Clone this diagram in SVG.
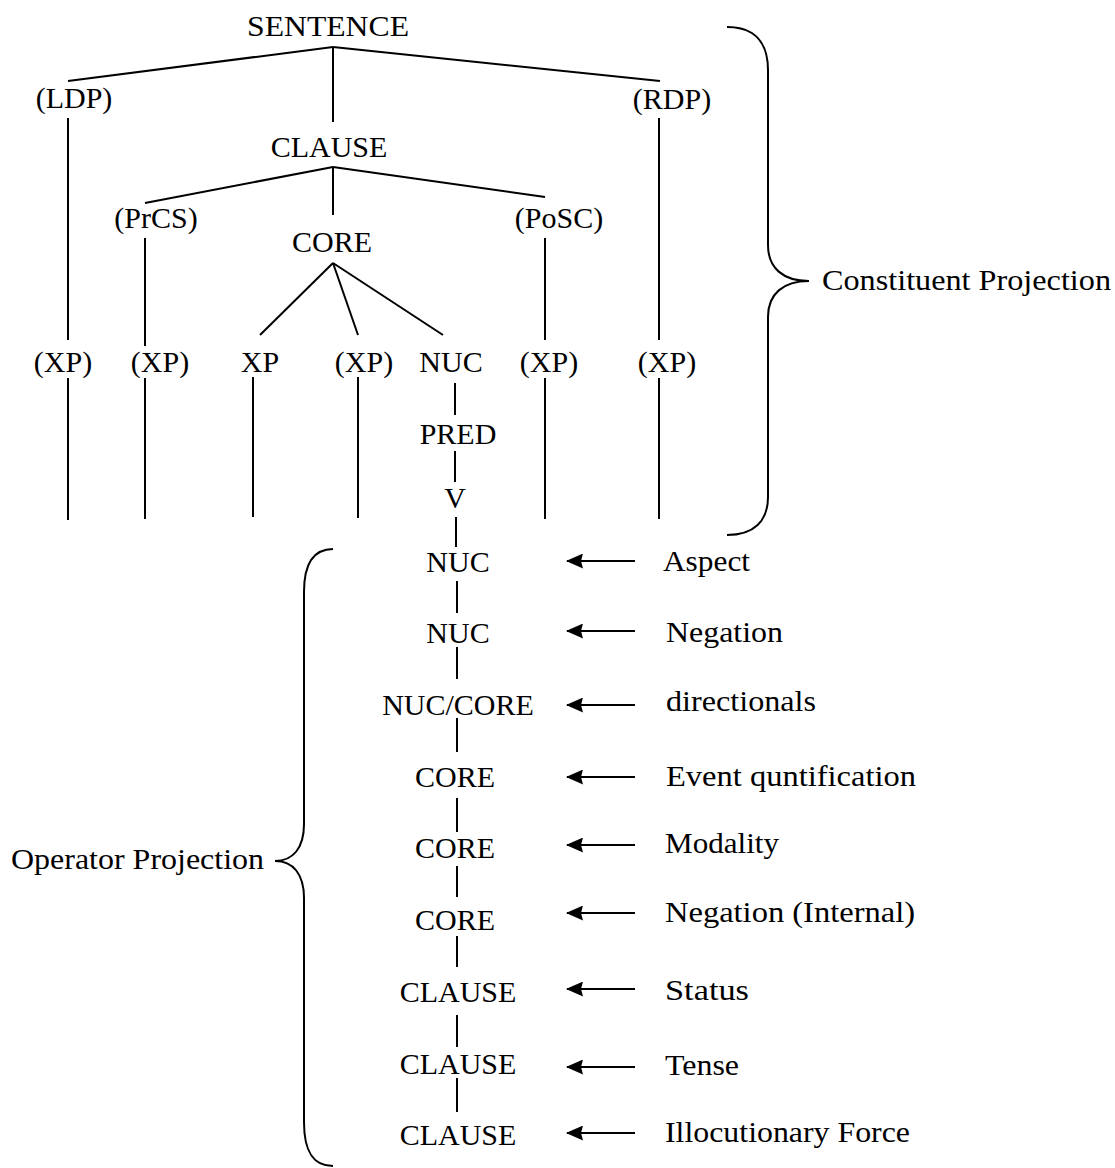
<svg xmlns="http://www.w3.org/2000/svg" width="1115" height="1168" viewBox="0 0 1115 1168">
<style>
text{font-family:"Liberation Serif","Times New Roman",serif;font-size:30px;fill:#000}
.n{text-anchor:middle}
.lbl{text-anchor:start}
line,path{stroke:#000;stroke-width:2;fill:none}
</style>
<defs>
<marker id="ah" viewBox="0 0 17 15" refX="16" refY="7.5" markerWidth="17" markerHeight="15" markerUnits="userSpaceOnUse" orient="auto">
<path d="M0,0 L17,7.5 L0,15 L2,7.5 Z" style="fill:#000;stroke:none"/>
</marker>
</defs>
<rect width="1115" height="1168" fill="#fff"/>

<g id="connectors">
<line x1="333" y1="47" x2="68" y2="81"/>
<line x1="333" y1="47" x2="333" y2="122"/>
<line x1="333" y1="47" x2="660" y2="81"/>
<line x1="68" y1="118" x2="68" y2="340"/>
<line x1="659" y1="118" x2="659" y2="340"/>
<line x1="333" y1="167" x2="145" y2="203"/>
<line x1="333" y1="167" x2="333" y2="215"/>
<line x1="333" y1="167" x2="545" y2="197"/>
<line x1="145" y1="238" x2="145" y2="346"/>
<line x1="545" y1="238" x2="545" y2="340"/>
<line x1="333" y1="263" x2="260" y2="335"/>
<line x1="333" y1="263" x2="358" y2="335"/>
<line x1="333" y1="263" x2="443" y2="335"/>
<line x1="68" y1="378" x2="68" y2="520"/>
<line x1="145" y1="378" x2="145" y2="519"/>
<line x1="253" y1="377" x2="253" y2="517"/>
<line x1="358" y1="377" x2="358" y2="518"/>
<line x1="545" y1="378" x2="545" y2="519"/>
<line x1="659" y1="378" x2="659" y2="519"/>
<line x1="455" y1="383" x2="455" y2="415"/>
<line x1="455" y1="451" x2="455" y2="482"/>
<line x1="456" y1="517" x2="456" y2="547"/>
<line x1="457" y1="581" x2="457" y2="613"/>
<line x1="457" y1="647" x2="457" y2="679"/>
<line x1="457" y1="718" x2="457" y2="752"/>
<line x1="457" y1="798" x2="457" y2="832"/>
<line x1="457" y1="866" x2="457" y2="897"/>
<line x1="457" y1="936" x2="457" y2="967"/>
<line x1="457" y1="1015" x2="457" y2="1047"/>
<line x1="457" y1="1078" x2="457" y2="1112"/>
<line x1="635" y1="561" x2="567" y2="561" marker-end="url(#ah)"/>
<line x1="635" y1="631" x2="567" y2="631" marker-end="url(#ah)"/>
<line x1="635" y1="705" x2="567" y2="705" marker-end="url(#ah)"/>
<line x1="635" y1="777" x2="567" y2="777" marker-end="url(#ah)"/>
<line x1="635" y1="845" x2="567" y2="845" marker-end="url(#ah)"/>
<line x1="635" y1="913" x2="567" y2="913" marker-end="url(#ah)"/>
<line x1="635" y1="989" x2="567" y2="989" marker-end="url(#ah)"/>
<line x1="635" y1="1067" x2="567" y2="1067" marker-end="url(#ah)"/>
<line x1="635" y1="1133" x2="567" y2="1133" marker-end="url(#ah)"/>
</g>

<g id="brace-constituent">
<path d="M727,27 C754,27 768,42 768,70 L768,245 C768,268 783,281 809,281 C783,281 768,294 768,317 L768,497 C768,521 754,535 727,535"/>
<text class="lbl" x="822" y="290" textLength="289" lengthAdjust="spacingAndGlyphs">Constituent Projection</text>
</g>
<g id="brace-operator">
<path d="M333,549 C312,549 304,565 304,592 L304,824 C304,848 293,861 275,861 C293,861 304,874 304,898 L304,1122 C304,1150 312,1166 333,1166"/>
<text x="264" y="869" style="text-anchor:end" textLength="253" lengthAdjust="spacingAndGlyphs">Operator Projection</text>
</g>

<g id="n-sentence"><text class="n" x="328" y="36" textLength="162" lengthAdjust="spacingAndGlyphs">SENTENCE</text></g>
<g id="n-ldp"><text class="n" x="74" y="108">(LDP)</text></g>
<g id="n-rdp"><text class="n" x="672" y="109">(RDP)</text></g>
<g id="n-clause"><text class="n" x="329" y="157">CLAUSE</text></g>
<g id="n-prcs"><text class="n" x="156" y="228">(PrCS)</text></g>
<g id="n-posc"><text class="n" x="559" y="228">(PoSC)</text></g>
<g id="n-core"><text class="n" x="332" y="252">CORE</text></g>
<g id="n-xp1"><text class="n" x="63" y="372">(XP)</text></g>
<g id="n-xp2"><text class="n" x="160" y="372">(XP)</text></g>
<g id="n-xp3"><text class="n" x="260" y="372">XP</text></g>
<g id="n-xp4"><text class="n" x="364" y="372">(XP)</text></g>
<g id="n-nuc"><text class="n" x="451" y="372">NUC</text></g>
<g id="n-xp5"><text class="n" x="549" y="372">(XP)</text></g>
<g id="n-xp6"><text class="n" x="667" y="372">(XP)</text></g>
<g id="n-pred"><text class="n" x="458" y="444">PRED</text></g>
<g id="n-v"><text class="n" x="455" y="508">V</text></g>

<g id="op-1"><text class="n" x="458" y="572">NUC</text></g>
<g id="op-2"><text class="n" x="458" y="643">NUC</text></g>
<g id="op-3"><text class="n" x="458" y="715">NUC/CORE</text></g>
<g id="op-4"><text class="n" x="455" y="787">CORE</text></g>
<g id="op-5"><text class="n" x="455" y="858">CORE</text></g>
<g id="op-6"><text class="n" x="455" y="930">CORE</text></g>
<g id="op-7"><text class="n" x="458" y="1002">CLAUSE</text></g>
<g id="op-8"><text class="n" x="458" y="1074">CLAUSE</text></g>
<g id="op-9"><text class="n" x="458" y="1145">CLAUSE</text></g>

<g id="lbl-aspect"><text class="lbl" x="663" y="571" textLength="87" lengthAdjust="spacingAndGlyphs">Aspect</text></g>
<g id="lbl-negation"><text class="lbl" x="666" y="642" textLength="117" lengthAdjust="spacingAndGlyphs">Negation</text></g>
<g id="lbl-directionals"><text class="lbl" x="666" y="711" textLength="150" lengthAdjust="spacingAndGlyphs">directionals</text></g>
<g id="lbl-event"><text class="lbl" x="666" y="786" textLength="250" lengthAdjust="spacingAndGlyphs">Event quntification</text></g>
<g id="lbl-modality"><text class="lbl" x="665" y="853" textLength="114" lengthAdjust="spacingAndGlyphs">Modality</text></g>
<g id="lbl-neg-int"><text class="lbl" x="665" y="922" textLength="250" lengthAdjust="spacingAndGlyphs">Negation (Internal)</text></g>
<g id="lbl-status"><text class="lbl" x="665" y="1000" textLength="84" lengthAdjust="spacingAndGlyphs">Status</text></g>
<g id="lbl-tense"><text class="lbl" x="665" y="1075" textLength="74" lengthAdjust="spacingAndGlyphs">Tense</text></g>
<g id="lbl-illoc"><text class="lbl" x="665" y="1142" textLength="245" lengthAdjust="spacingAndGlyphs">Illocutionary Force</text></g>
</svg>
